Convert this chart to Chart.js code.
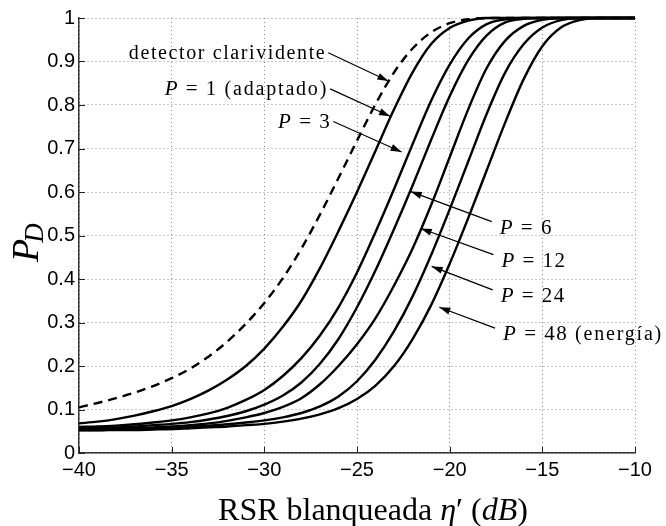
<!DOCTYPE html>
<html>
<head>
<meta charset="utf-8">
<script src="https://cdn.jsdelivr.net/npm/chart.js@4.4.1/dist/chart.umd.min.js"></script>
<style>
  html, body { margin: 0; padding: 0; background: #fff; }
  canvas { display: block; }
</style>
</head>
<body>
<canvas id="pdChart" width="666" height="526"></canvas>
<script>
// RSR (dB) sample points shared by all curves
const snrDb = [-40, -39, -38, -37, -36, -35, -34, -33, -32, -31, -30, -29, -28, -27, -26, -25,
               -24, -23, -22, -21, -20, -19, -18, -17, -16, -15, -14, -13, -12, -11, -10];

// P_D at each snrDb point
const pdClairvoyant = [0.105, 0.115, 0.126, 0.139, 0.154, 0.172, 0.194, 0.222, 0.256, 0.297, 0.345, 0.402, 0.47, 0.548, 0.632, 0.718,
                       0.802, 0.875, 0.93, 0.967, 0.988, 0.997, 1, 1, 1, 1, 1, 1, 1, 1, 1];
const pdP1  = [0.068, 0.072, 0.078, 0.086, 0.096, 0.108, 0.124, 0.144, 0.169, 0.2, 0.24, 0.29, 0.35, 0.425, 0.51, 0.6,
               0.695, 0.79, 0.875, 0.94, 0.977, 0.994, 1, 1, 1, 1, 1, 1, 1, 1, 1];
const pdP3  = [0.060, 0.061, 0.063, 0.066, 0.070, 0.075, 0.082, 0.091, 0.104, 0.122, 0.145, 0.177, 0.218, 0.27, 0.335, 0.415,
               0.508, 0.607, 0.71, 0.81, 0.893, 0.953, 0.986, 0.997, 1, 1, 1, 1, 1, 1, 1];
const pdP6  = [0.057, 0.058, 0.059, 0.061, 0.064, 0.067, 0.071, 0.077, 0.085, 0.096, 0.111, 0.132, 0.162, 0.205, 0.262, 0.335,
               0.42, 0.515, 0.615, 0.72, 0.82, 0.903, 0.96, 0.99, 0.998, 1, 1, 1, 1, 1, 1];
const pdP12 = [0.055, 0.055, 0.056, 0.057, 0.059, 0.061, 0.064, 0.068, 0.074, 0.082, 0.092, 0.106, 0.126, 0.158, 0.2, 0.25,
               0.31, 0.385, 0.47, 0.57, 0.68, 0.79, 0.885, 0.948, 0.982, 0.996, 1, 1, 1, 1, 1];
const pdP24 = [0.053, 0.053, 0.054, 0.055, 0.056, 0.058, 0.060, 0.063, 0.066, 0.070, 0.075, 0.082, 0.092, 0.107, 0.13, 0.165,
               0.215, 0.28, 0.36, 0.455, 0.56, 0.67, 0.78, 0.875, 0.94, 0.978, 0.995, 1, 1, 1, 1];
const pdP48 = [0.052, 0.052, 0.053, 0.053, 0.054, 0.055, 0.057, 0.059, 0.061, 0.064, 0.067, 0.072, 0.079, 0.089, 0.103, 0.124,
               0.155, 0.2, 0.262, 0.34, 0.435, 0.54, 0.65, 0.76, 0.86, 0.935, 0.978, 0.995, 1, 1, 1];

const curveLabels = ['detector clarividente', 'P = 1 (adaptado)', 'P = 3', 'P = 6', 'P = 12', 'P = 24', 'P = 48 (energía)'];

// where each label's arrow starts (tail) and where it points (tip), in data units
const labelArrows = [
    { tail: [-26.55, 0.920], tip: [-23.31, 0.855], side: 'left' },
    { tail: [-26.45, 0.837], tip: [-23.22, 0.774], side: 'left' },
    { tail: [-26.28, 0.762], tip: [-22.59, 0.692], side: 'left' },
    { tail: [-17.73, 0.532], tip: [-22.10, 0.601], side: 'right' },
    { tail: [-17.64, 0.456], tip: [-21.56, 0.516], side: 'right' },
    { tail: [-17.68, 0.375], tip: [-20.97, 0.429], side: 'right' },
    { tail: [-17.55, 0.287], tip: [-20.56, 0.335], side: 'right' }
];

const SERIF = '"Liberation Serif", "Times New Roman", serif';
const SANS = '"Liberation Sans", Arial, sans-serif';

function toPoints(values) {
    return snrDb.map((x, i) => ({ x: x, y: values[i] }));
}

function curve(values, dashed) {
    return {
        data: toPoints(values),
        borderColor: '#000',
        borderWidth: 2.4,
        borderDash: dashed ? [9, 6] : [],
        pointRadius: 0,
        fill: false,
        cubicInterpolationMode: 'monotone',
        clip: false
    };
}

function drawRuns(ctx, runs, x, y, align) {
    const widths = runs.map(r => {
        ctx.font = r.font;
        ctx.letterSpacing = (r.spacing || 0) + 'px';
        return ctx.measureText(r.text).width;
    });
    const total = widths.reduce((a, b) => a + b, 0);
    let cx = align === 'right' ? x - total : (align === 'center' ? x - total / 2 : x);
    ctx.textAlign = 'left';
    ctx.textBaseline = 'alphabetic';
    runs.forEach((r, i) => {
        ctx.font = r.font;
        ctx.letterSpacing = (r.spacing || 0) + 'px';
        ctx.fillText(r.text, cx, y);
        cx += widths[i];
    });
    ctx.letterSpacing = '0px';
}

function labelRuns(text) {
    if (text.startsWith('P')) {
        const m = text.match(/^P( = \d+)(.*)$/);
        const runs = [
            { text: 'P', font: 'italic 21px ' + SERIF, spacing: 1.5 },
            { text: m[1], font: '21px ' + SERIF, spacing: 1.5 }
        ];
        if (m[2]) runs.push({ text: m[2], font: '20px ' + SERIF, spacing: 1.8 });
        return runs;
    }
    return [{ text: text, font: '20px ' + SERIF, spacing: 1.6 }];
}

const decorPlugin = {
    id: 'decor',
    afterDraw(chart) {
        const { ctx, chartArea: a, scales: { x, y } } = chart;
        ctx.save();

        // inward tick marks
        ctx.strokeStyle = '#222';
        ctx.lineWidth = 1;
        ctx.beginPath();
        x.ticks.forEach(t => {
            const px = Math.round(x.getPixelForValue(t.value)) + 0.5;
            ctx.moveTo(px, a.bottom);
            ctx.lineTo(px, a.bottom - 6);
        });
        y.ticks.forEach(t => {
            const py = Math.round(y.getPixelForValue(t.value)) + 0.5;
            ctx.moveTo(a.left, py);
            ctx.lineTo(a.left + 6, py);
        });
        ctx.stroke();

        // curve labels with arrows
        ctx.fillStyle = '#000';
        ctx.strokeStyle = '#000';
        labelArrows.forEach((arr, i) => {
            const tx = x.getPixelForValue(arr.tail[0]);
            const ty = y.getPixelForValue(arr.tail[1]);
            const hx = x.getPixelForValue(arr.tip[0]);
            const hy = y.getPixelForValue(arr.tip[1]);
            ctx.lineWidth = 1.2;
            ctx.beginPath();
            ctx.moveTo(tx, ty);
            ctx.lineTo(hx, hy);
            ctx.stroke();
            const ang = Math.atan2(hy - ty, hx - tx);
            const len = 11, half = 3.5;
            ctx.beginPath();
            ctx.moveTo(hx, hy);
            ctx.lineTo(hx - len * Math.cos(ang) + half * Math.sin(ang), hy - len * Math.sin(ang) - half * Math.cos(ang));
            ctx.lineTo(hx - len * Math.cos(ang) - half * Math.sin(ang), hy - len * Math.sin(ang) + half * Math.cos(ang));
            ctx.closePath();
            ctx.fill();

            const runs = labelRuns(curveLabels[i]);
            if (arr.side === 'left') {
                drawRuns(ctx, runs, tx - 2, ty + 6, 'right');
            } else {
                drawRuns(ctx, runs, tx + 8, ty + 12, 'left');
            }
        });

        // x axis title
        drawRuns(ctx, [
            { text: 'RSR blanqueada ', font: '32px ' + SERIF },
            { text: 'η', font: 'italic 32px ' + SERIF },
            { text: '′ (', font: '32px ' + SERIF },
            { text: 'dB', font: 'italic 32px ' + SERIF },
            { text: ')', font: '32px ' + SERIF }
        ], 373, 520, 'center');

        // y axis title P_D
        ctx.save();
        ctx.translate(38, 238);
        ctx.rotate(-Math.PI / 2);
        ctx.font = 'italic 38px ' + SERIF;
        const pw = ctx.measureText('P').width;
        ctx.fillText('P', -24, 0);
        ctx.font = 'italic 27px ' + SERIF;
        ctx.fillText('D', -24 + pw - 4, 5);
        ctx.restore();

        ctx.restore();
    }
};

const tickFont = { family: SANS, size: 20 };

new Chart(document.getElementById('pdChart').getContext('2d'), {
    type: 'line',
    data: {
        datasets: [
            curve(pdClairvoyant, true),
            curve(pdP1),
            curve(pdP3),
            curve(pdP6),
            curve(pdP12),
            curve(pdP24),
            curve(pdP48)
        ]
    },
    options: {
        responsive: false,
        animation: false,
        devicePixelRatio: 1,
        layout: { padding: { left: 0, right: 31, top: 18, bottom: 0 } },
        plugins: {
            legend: { display: false },
            tooltip: { enabled: false }
        },
        scales: {
            x: {
                type: 'linear',
                min: -40,
                max: -10,
                ticks: {
                    stepSize: 5,
                    color: '#000',
                    font: tickFont,
                    padding: 5,
                    maxRotation: 0,
                    callback: v => (v < 0 ? '\u2212' + Math.abs(v) : String(v))
                },
                grid: { color: '#8a8a8a', lineWidth: 1, drawTicks: false },
                border: { display: true, color: '#333', width: 1.5, dash: [1, 3] },
                afterFit(scale) { scale.height = 73; }
            },
            y: {
                type: 'linear',
                min: 0,
                max: 1,
                ticks: {
                    stepSize: 0.1,
                    color: '#000',
                    font: tickFont,
                    padding: 4,
                    callback: v => (v === 0 ? '0' : (Math.abs(v - 1) < 1e-9 ? '1' : v.toFixed(1)))
                },
                grid: { color: '#8a8a8a', lineWidth: 1, drawTicks: false },
                border: { display: true, color: '#333', width: 1.5, dash: [1, 3] },
                afterFit(scale) { scale.width = 79; }
            }
        }
    },
    plugins: [decorPlugin]
});
</script>
</body>
</html>
